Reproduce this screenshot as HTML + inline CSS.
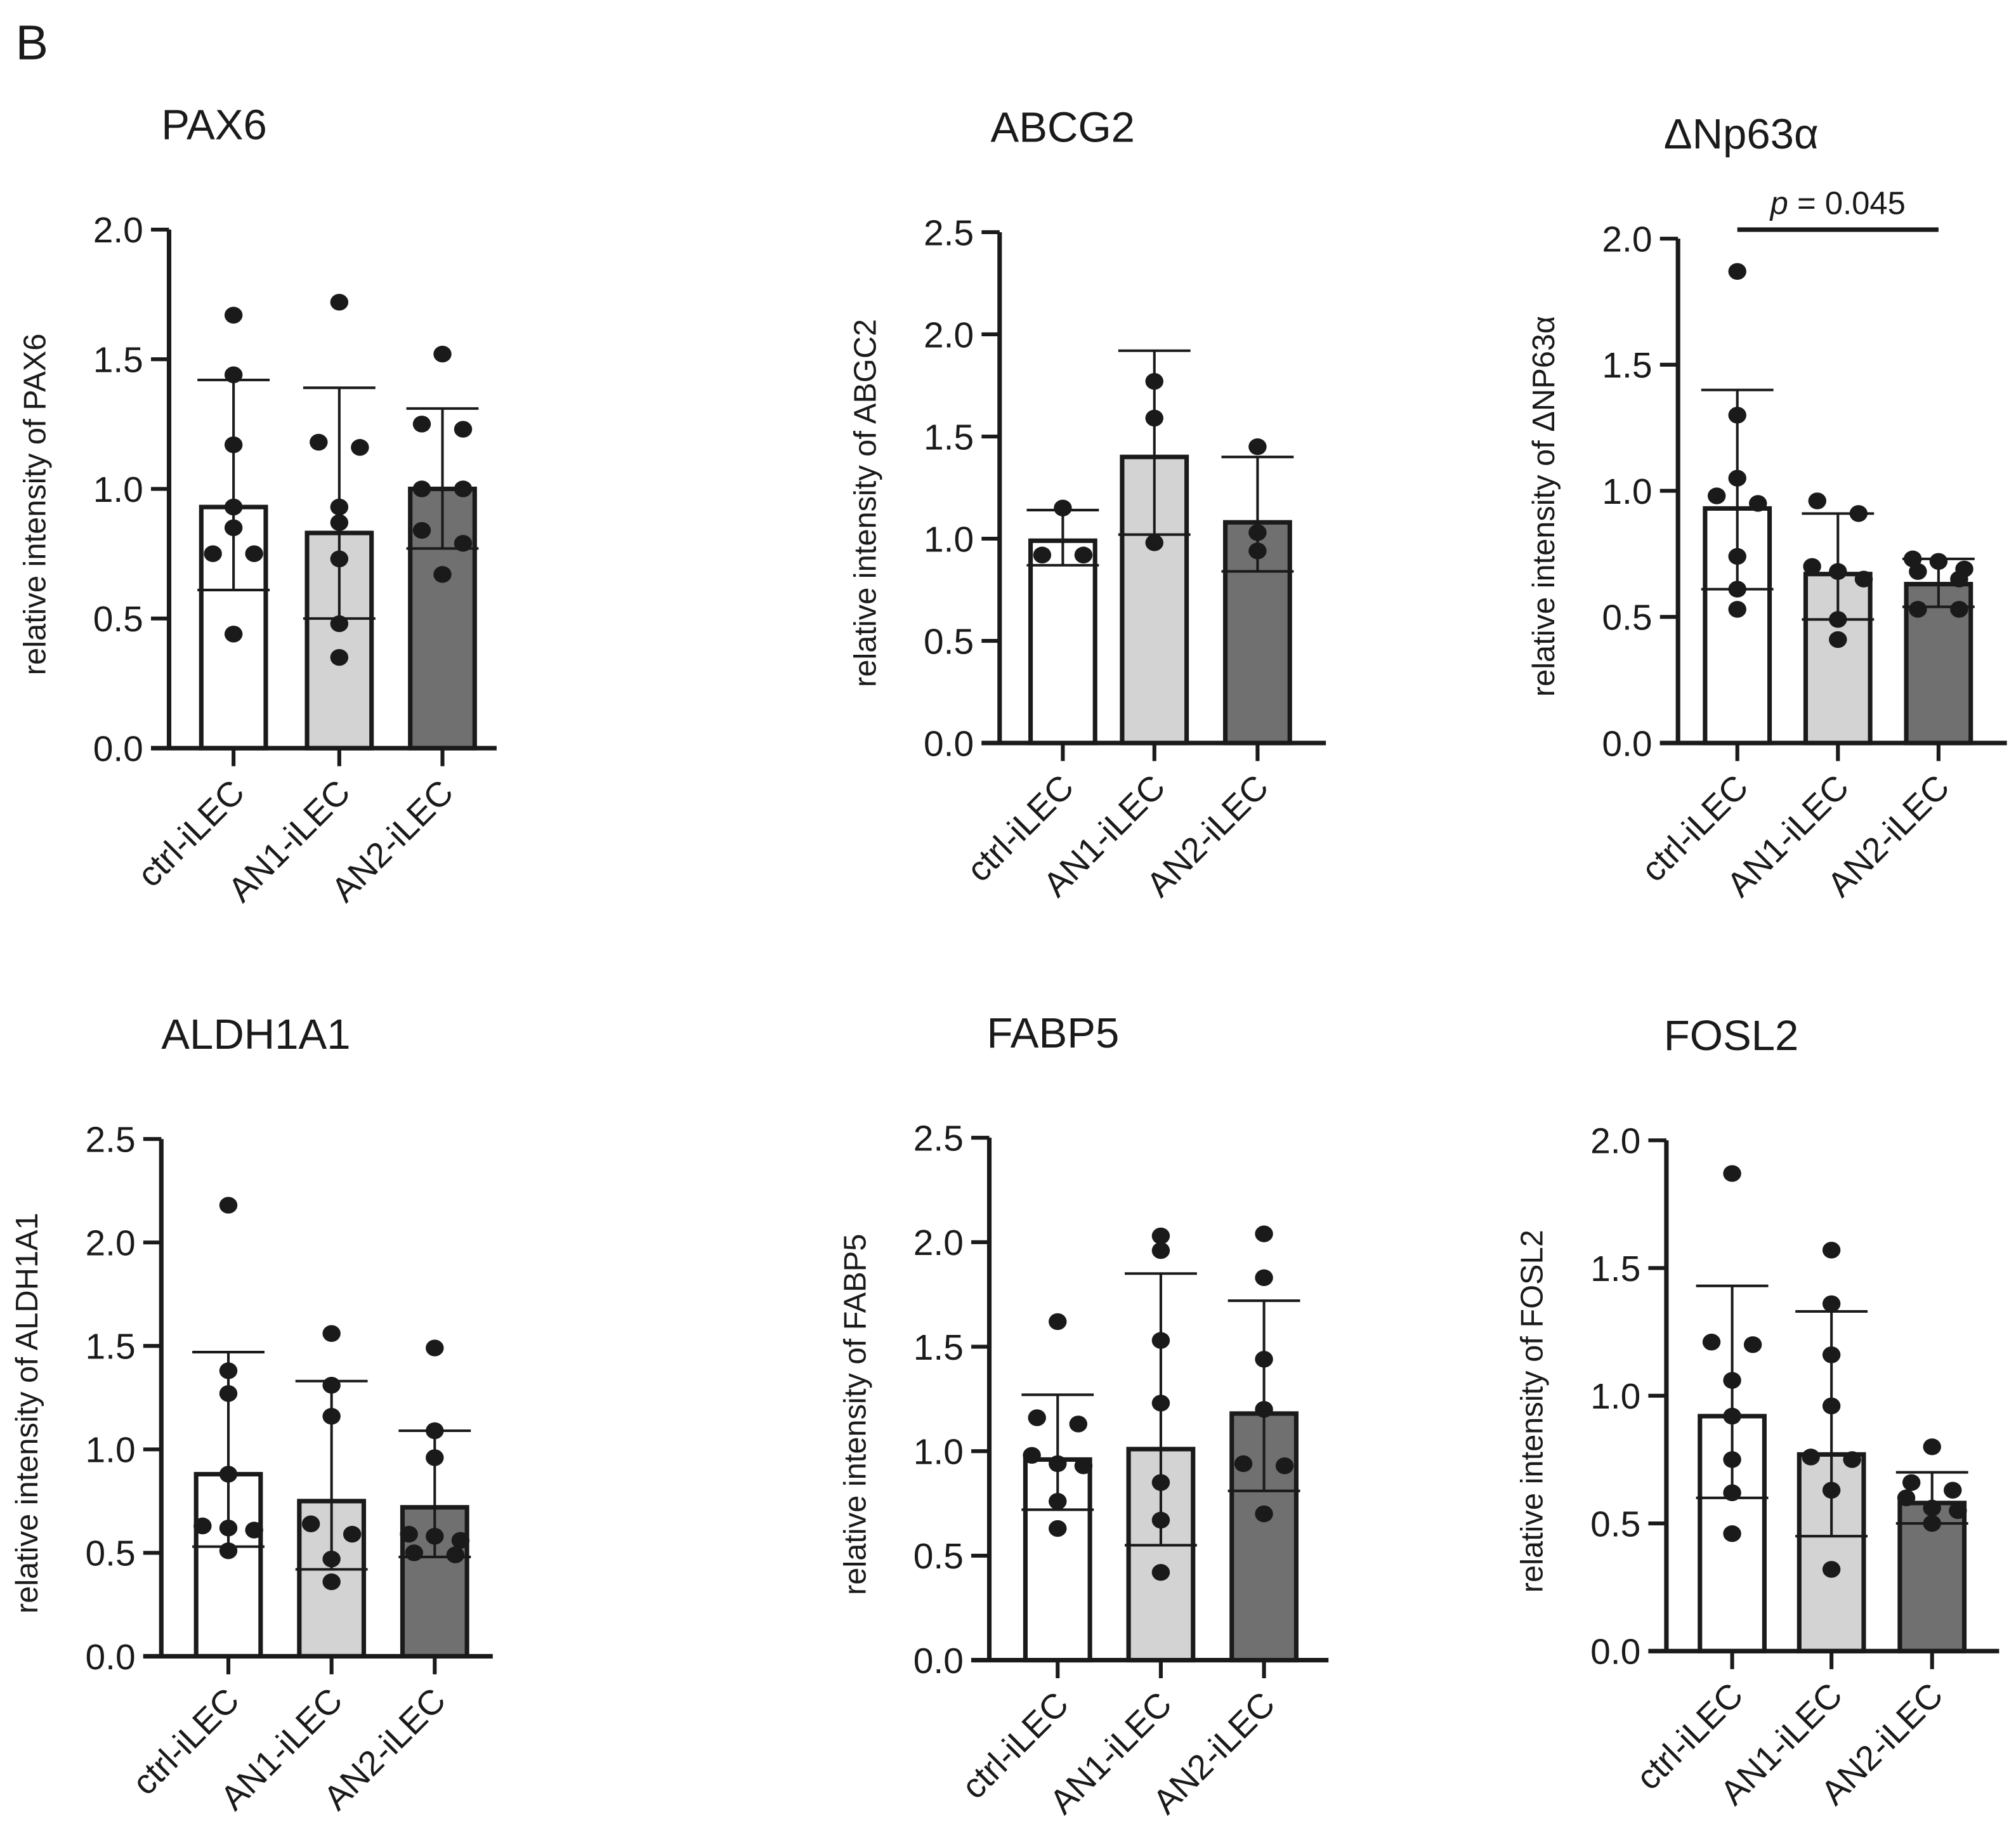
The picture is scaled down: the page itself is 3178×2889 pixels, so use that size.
<!DOCTYPE html>
<html><head><meta charset="utf-8"><style>
html,body{margin:0;padding:0;background:#fff}
svg{display:block}
text{font-family:"Liberation Sans",Arial,sans-serif;fill:#1a1a1a}
</style></head><body>
<svg id="fig" xmlns="http://www.w3.org/2000/svg" width="3178" height="2889" viewBox="0 0 1563 1421">
<rect width="1563" height="1421" fill="#fff"/>
<text x="12" y="46" font-size="38">B</text>
</svg>
<script>
const categories = ["ctrl-iLEC","AN1-iLEC","AN2-iLEC"];
const titles = ["PAX6","ABCG2","ΔNp63α","ALDH1A1","FABP5","FOSL2"];
const yLabels = ["relative intensity of PAX6","relative intensity of ABGC2","relative intensity of ΔNP63α","relative intensity of ALDH1A1","relative intensity of FABP5","relative intensity of FOSL2"];
const yMaxes = [2.0,2.5,2.0,2.5,2.5,2.0];
const yTicks2 = ["0.0","0.5","1.0","1.5","2.0"];
const yTicks25 = ["0.0","0.5","1.0","1.5","2.0","2.5"];
const means = [[0.93,0.83,1.0],[0.99,1.40,1.08],[0.93,0.67,0.63],[0.88,0.75,0.72],[0.96,1.01,1.18],[0.92,0.77,0.58]];
const errUpper = [[1.42,1.39,1.31],[1.14,1.92,1.40],[1.40,0.91,0.73],[1.47,1.33,1.09],[1.27,1.85,1.72],[1.43,1.33,0.70]];
const errLower = [[0.61,0.50,0.77],[0.87,1.02,0.84],[0.61,0.49,0.54],[0.53,0.42,0.48],[0.72,0.55,0.81],[0.60,0.45,0.50]];
const points = [
 [[1.67,1.44,1.17,0.93,0.85,0.75,0.75,0.44],[1.72,1.18,1.16,0.93,0.87,0.73,0.48,0.35],[1.52,1.25,1.23,1.0,1.0,0.84,0.79,0.67]],
 [[1.15,0.92,0.92],[1.77,1.59,0.98],[1.45,1.03,0.94]],
 [[1.87,1.30,1.05,0.98,0.95,0.74,0.61,0.53],[0.96,0.91,0.70,0.68,0.65,0.49,0.41],[0.73,0.72,0.69,0.68,0.65,0.53,0.53]],
 [[2.18,1.38,1.27,0.88,0.63,0.61,0.62,0.51],[1.56,1.31,1.16,0.64,0.59,0.47,0.36],[1.49,1.09,0.96,0.59,0.58,0.56,0.50,0.49]],
 [[1.62,1.16,1.13,0.98,0.94,0.93,0.76,0.63],[2.03,1.96,1.53,1.23,0.85,0.67,0.42],[2.04,1.83,1.44,1.20,0.94,0.93,0.70]],
 [[1.87,1.21,1.20,1.06,0.92,0.75,0.62,0.46],[1.57,1.36,1.16,0.96,0.76,0.75,0.63,0.32],[0.80,0.66,0.63,0.60,0.56,0.55,0.50]]
];
const pText = "p = 0.045";

const layouts = [
 {ax:131, top:178, bot:580, xs:[181,263,343], xend:385, tx:125},
 {ax:775, top:180, bot:576, xs:[824,895,975], xend:1028, tx:768},
 {ax:1301, top:185, bot:576, xs:[1347,1425,1503], xend:1556, tx:1290},
 {ax:125, top:883, bot:1284, xs:[177,257,337], xend:382, tx:125},
 {ax:767, top:882, bot:1287, xs:[820,900,980], xend:1030, tx:765},
 {ax:1292, top:884, bot:1280, xs:[1343,1420,1498], xend:1550, tx:1290}
];
const fills = ["#ffffff","#d3d3d3","#6f706f"];
const ink = "#1a1a1a";
const NS = "http://www.w3.org/2000/svg";
const svg = document.getElementById('fig');
function mk(tag, attrs, parent){const e=document.createElementNS(NS,tag);for(const k in attrs)e.setAttribute(k,attrs[k]);(parent||svg).appendChild(e);return e;}

titles.forEach((t,i)=>{
  const L = layouts[i];
  const g = mk('g',{});
  
  
  const y = v => L.bot - v/yMaxes[i]*(L.bot-L.top);
  const titleEl = mk('text',{x:L.tx,y:L.top-70,'font-size':33},g);
  titleEl.textContent = t;
  
  
  const yl = mk('text',{x:0,y:0,'font-size':24,'text-anchor':'middle',transform:`translate(${L.ax-96},${(L.top+L.bot)/2+12}) rotate(-90)`},g);
  yl.textContent = yLabels[i];
  
  
  const ticks = yMaxes[i]===2.0 ? yTicks2 : yTicks25;
  ticks.forEach(tl=>{
    const v = parseFloat(tl);
    const tk = mk('line',{x1:L.ax-14,x2:L.ax,y1:y(v),y2:y(v),stroke:ink,'stroke-width':3},g);
    
    
    const tt = mk('text',{x:L.ax-20,y:y(v)+10,'font-size':28,'text-anchor':'end'},g);
    tt.textContent = tl;
    
    
  });
  categories.forEach((c,j)=>{
    const cx = L.xs[j], bw = 50;
    const bar = mk('rect',{x:cx-bw/2,y:y(means[i][j]),width:bw,height:L.bot-y(means[i][j]),fill:fills[j],stroke:ink,'stroke-width':3.5},g);
    
    
    const eb = mk('path',{d:`M${cx},${y(errUpper[i][j])}V${y(errLower[i][j])}M${cx-28},${y(errUpper[i][j])}H${cx+28}M${cx-28},${y(errLower[i][j])}H${cx+28}`,stroke:ink,'stroke-width':2,fill:'none'},g);
    
    
    const vals = points[i][j].slice().sort((a,b)=>b-a);
    const groups = [];
    vals.forEach(v=>{
      const py = y(v);
      const last = groups[groups.length-1];
      if(last && Math.abs(last[0]-py)<11 && last.length<3) last.push(py); else groups.push([py]);
    });
    groups.forEach(gr=>{
      const n = gr.length;
      const sp = n===2 ? 32 : 20;
      gr.forEach((py,k)=>{
        const off = (k-(n-1)/2)*sp;
        const dot = mk('ellipse',{cx:cx+off,cy:py,rx:7,ry:6.5,fill:ink},g);
        
        
      });
    });
    const xt = mk('line',{x1:cx,x2:cx,y1:L.bot,y2:L.bot+14,stroke:ink,'stroke-width':3},g);
    
    
    const xl = mk('text',{x:0,y:0,'font-size':27,'text-anchor':'end',transform:`translate(${cx+10},${L.bot+36}) rotate(-45)`},g);
    xl.textContent = c;
    
    
  });
  const ax = mk('path',{d:`M${L.ax},${L.top}V${L.bot}M${L.ax-14},${L.bot}H${L.xend}`,stroke:ink,'stroke-width':3.5,fill:'none'},g);
  
  
  if(i===2){
    const sl = mk('line',{x1:L.xs[0],x2:L.xs[2],y1:L.top-7,y2:L.top-7,stroke:ink,'stroke-width':3.5},g);
    
    
    const st = mk('text',{x:(L.xs[0]+L.xs[2])/2,y:L.top-19,'font-size':25,'text-anchor':'middle'},g);
    st.innerHTML = '<tspan font-style="italic">p</tspan>' + pText.slice(1);
    
    
  }
});
</script>
</body></html>
